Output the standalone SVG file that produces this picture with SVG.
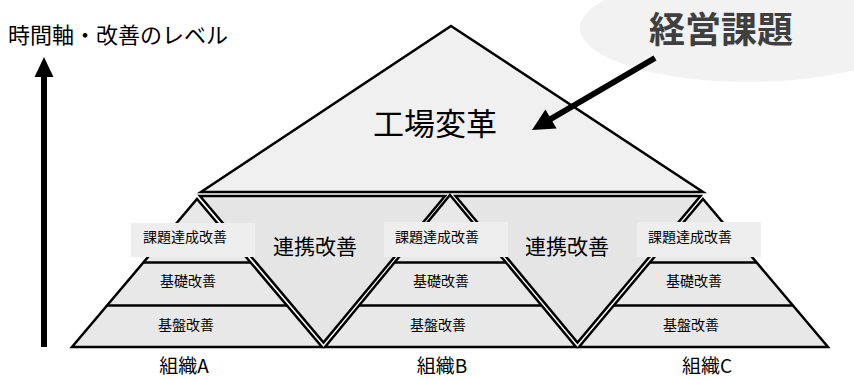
<svg xmlns="http://www.w3.org/2000/svg" width="854" height="380" viewBox="0 0 854 380">
<style>
text{font-family:"Noto Sans CJK JP","Noto Sans",sans-serif;fill:#000}
.shape{stroke:#000;stroke-width:2.5;stroke-linejoin:miter;stroke-miterlimit:10}
.top{fill:#f0f0f0}
.inv{fill:#e5e5e5}
.pyr{fill:#e8e8e8}
.layer{stroke:#000;stroke-width:2.5}
.box{fill:#eeeeee}
.small{font-size:14px}
.mid{font-size:21px}
.org{font-size:19px}
</style>
<rect width="854" height="380" fill="#fff"/>
<g id="issue">
<ellipse cx="748" cy="28" rx="168" ry="54" fill="#f2f2f2"/>
<text x="721" y="43" text-anchor="middle" style="font-size:36px;font-weight:bold;fill:#3f3f3f">経営課題</text>
</g>
<g id="axis-label">
<text x="8" y="43" style="font-size:22px">時間軸・改善のレベル</text>
</g>
<g id="factory">
<polygon class="shape top" points="451,26 703,192 201,192"/>
<text x="435" y="135" text-anchor="middle" style="font-size:31px">工場変革</text>
</g>
<g id="link1">
<polygon class="shape inv" points="200,196 445,196 323.5,342.5"/>
<text x="315" y="254" text-anchor="middle" class="mid">連携改善</text>
</g>
<g id="link2">
<polygon class="shape inv" points="455.5,196 700.5,196 577.5,342.5"/>
<text x="567" y="254" text-anchor="middle" class="mid">連携改善</text>
</g>
<g id="orgA">
<polygon class="shape pyr" points="197,199 322,347 72,347"/>
<line class="layer" x1="143.4" y1="262.5" x2="250.6" y2="262.5"/>
<line class="layer" x1="107" y1="305.5" x2="287" y2="305.5"/>
<rect class="box" x="131" y="223" width="124" height="34"/>
<text x="185" y="242" text-anchor="middle" class="small">課題達成改善</text>
<text x="188" y="286" text-anchor="middle" class="small">基礎改善</text>
<text x="186" y="330" text-anchor="middle" class="small">基盤改善</text>
<text x="184" y="373" text-anchor="middle" class="org">組織A</text>
</g>
<g id="orgB">
<polygon class="shape pyr" points="450,195 576,347 325,347"/>
<line class="layer" x1="394.5" y1="262.5" x2="506" y2="262.5"/>
<line class="layer" x1="359.2" y1="305.5" x2="541.6" y2="305.5"/>
<rect class="box" x="384" y="222" width="124" height="35"/>
<text x="437" y="242" text-anchor="middle" class="small">課題達成改善</text>
<text x="441" y="286" text-anchor="middle" class="small">基礎改善</text>
<text x="438" y="330" text-anchor="middle" class="small">基盤改善</text>
<text x="442" y="373" text-anchor="middle" class="org">組織B</text>
</g>
<g id="orgC">
<polygon class="shape pyr" points="703,199 828,347 579,347"/>
<line class="layer" x1="649.8" y1="262.5" x2="756.7" y2="262.5"/>
<line class="layer" x1="613.8" y1="305.5" x2="793" y2="305.5"/>
<rect class="box" x="637" y="222" width="124" height="35"/>
<text x="690" y="242" text-anchor="middle" class="small">課題達成改善</text>
<text x="694" y="286" text-anchor="middle" class="small">基礎改善</text>
<text x="691" y="330" text-anchor="middle" class="small">基盤改善</text>
<text x="707" y="373" text-anchor="middle" class="org">組織C</text>
</g>
<g id="connectors">
<line x1="44" y1="347" x2="44" y2="74" stroke="#000" stroke-width="6"/>
<polygon points="44,57 34.5,77 53.5,77" fill="#000"/>
<line x1="655" y1="58" x2="549" y2="120" stroke="#000" stroke-width="6"/>
<polygon points="532,130 545.4,109.4 556.6,128.4" fill="#000"/>
</g>
</svg>
